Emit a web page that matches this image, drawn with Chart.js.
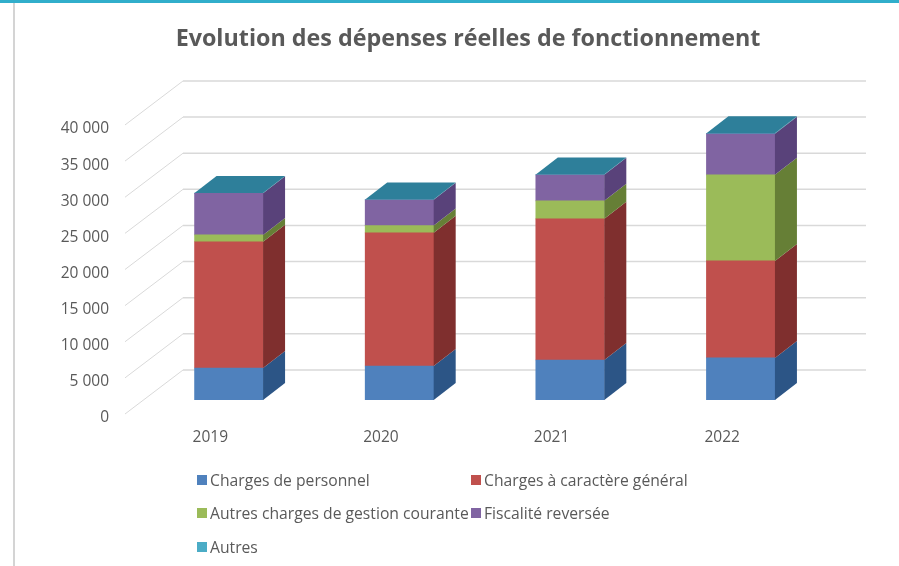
<!DOCTYPE html>
<html>
<head>
<meta charset="utf-8">
<script src="https://cdn.jsdelivr.net/npm/chart.js@4"></script>
<style>
  html, body { margin: 0; padding: 0; background: #fff; overflow: hidden; width: 899px; height: 566px; }
  #topbar { position: absolute; left: 0; top: 0; width: 899px; height: 3px; background: #31aecb; }
  #leftline { position: absolute; left: 13px; top: 3px; width: 2px; height: 563px; background: #d4d4d4; }
  #wrap { position: absolute; left: 37px; top: 0; width: 862px; height: 566px; }
  #legend { position: absolute; left: 197px; top: 463px; display: grid; grid-template-columns: 274px 240px; grid-auto-rows: 33.5px;
    font: 15.7px "Open Sans", sans-serif; color: #595959; }
  #legend div { display: flex; align-items: center; white-space: nowrap; }
  #legend i { display: inline-block; width: 10px; height: 10px; margin-right: 3px; }
</style>
</head>
<body>
<div id="topbar"></div>
<div id="leftline"></div>
<div id="wrap"><canvas id="chart" width="862" height="566"></canvas></div>
<div id="legend"></div>
<script>
var years = ['2019', '2020', '2021', '2022'];
var personnel = [4430, 4710, 5540, 5820];
var caractere = [17470, 18420, 19530, 13430];
var gestion = [950, 1010, 2490, 11910];
var fiscalite = [5750, 3560, 3600, 5680];
var autres = [50, 40, 40, 60];

var seriesNames = ['Charges de personnel', 'Charges à caractère général', 'Autres charges de gestion courante', 'Fiscalité reversée', 'Autres'];
var frontColors = ['#4f81bd', '#c0504d', '#9bbb59', '#8064a2', '#4bacc6'];
var sideColors = ['#2c5586', '#7f2f2e', '#667f36', '#59427a', '#2e7f9a'];
var topColor = '#2e7f9a';

// depth of the fake 3d: bars and back wall
var barDx = 22, barDy = 17;
var wallDy = 30, wallBackDx = 39.5, floorFrontDx = -18.5, floorFrontDy = 14, wallRightDx = 40;

var box3d = {
  id: 'box3d',
  beforeDatasetsDraw(chart) {
    var ctx = chart.ctx, y = chart.scales.y, area = chart.chartArea;
    ctx.save();
    y.ticks.forEach(t => {
      var py = y.getPixelForValue(t.value);
      ctx.strokeStyle = '#d9d9d9';
      ctx.lineWidth = 1.5;
      ctx.beginPath();
      ctx.moveTo(area.left + wallBackDx, py - wallDy);
      ctx.lineTo(area.right + wallRightDx, py - wallDy);
      ctx.stroke();
      ctx.lineWidth = 1;
      ctx.beginPath();
      ctx.moveTo(area.left + wallBackDx, py - wallDy);
      ctx.lineTo(area.left + floorFrontDx, py + floorFrontDy);
      ctx.stroke();
    });
    ctx.restore();
  },
  afterDatasetsDraw(chart) {
    var ctx = chart.ctx;
    ctx.save();
    chart.data.datasets.forEach((ds, i) => {
      chart.getDatasetMeta(i).data.forEach(bar => {
        var right = bar.x + bar.width / 2;
        ctx.fillStyle = sideColors[i];
        ctx.beginPath();
        ctx.moveTo(right, bar.y);
        ctx.lineTo(right + barDx, bar.y - barDy);
        ctx.lineTo(right + barDx, bar.base - barDy);
        ctx.lineTo(right, bar.base);
        ctx.closePath();
        ctx.fill();
      });
    });
    // top face sits on the last series
    chart.getDatasetMeta(chart.data.datasets.length - 1).data.forEach(bar => {
      var left = bar.x - bar.width / 2, right = bar.x + bar.width / 2;
      ctx.fillStyle = topColor;
      ctx.beginPath();
      ctx.moveTo(left, bar.y);
      ctx.lineTo(left + barDx, bar.y - barDy);
      ctx.lineTo(right + barDx, bar.y - barDy);
      ctx.lineTo(right, bar.y);
      ctx.closePath();
      ctx.fill();
    });
    ctx.restore();
  }
};

var values = [personnel, caractere, gestion, fiscalite, autres];
var datasets = seriesNames.map((name, i) => ({
  label: name,
  data: values[i],
  backgroundColor: frontColors[i],
  barThickness: 68.5
}));

var chart = new Chart(document.getElementById('chart'), {
  type: 'bar',
  data: { labels: years, datasets: datasets },
  plugins: [box3d],
  options: {
    responsive: false,
    animation: false,
    plugins: {
      legend: { display: false },
      tooltip: { enabled: false },
      title: {
        display: true,
        text: 'Evolution des dépenses réelles de fonctionnement',
        color: '#595959',
        font: { family: '"Open Sans"', size: 23.3, weight: '700' },
        padding: { top: 25, bottom: 58 }
      }
    },
    scales: {
      x: {
        stacked: true,
        afterFit: s => { s.height = 166; },
        grid: { display: false, drawTicks: false },
        border: { display: false },
        ticks: { color: '#595959', font: { family: '"Open Sans"', size: 15.5 }, padding: 28, labelOffset: -18.5, maxRotation: 0 }
      },
      y: {
        stacked: true,
        min: 0,
        max: 40000,
        afterFit: s => { s.width = 106.5; },
        grid: { display: false, drawTicks: false },
        border: { display: false },
        ticks: {
          stepSize: 5000,
          color: '#595959',
          font: { family: '"Open Sans"', size: 15.5 },
          padding: 34.5,
          labelOffset: 18,
          callback: v => String(v).replace(/\B(?=(\d{3})+$)/g, ' ')
        }
      },
      // empty axis: keeps room on the right, title stays centred on the canvas
      spacer: {
        position: 'right',
        afterFit: s => { s.width = 73; },
        grid: { display: false, drawTicks: false },
        border: { display: false },
        ticks: { display: false }
      }
    }
  }
});

var legend = document.getElementById('legend');
datasets.forEach(ds => {
  legend.innerHTML += '<div><i style="background:' + ds.backgroundColor + '"></i>' + ds.label + '</div>';
});
</script>
</body>
</html>
